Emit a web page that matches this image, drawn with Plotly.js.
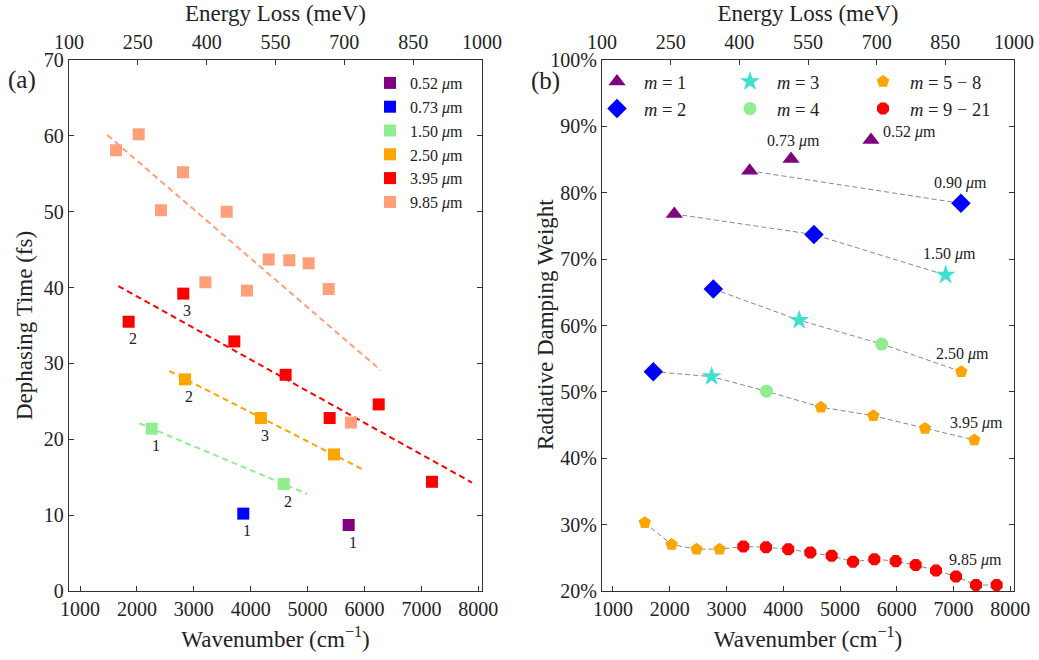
<!DOCTYPE html>
<html><head><meta charset="utf-8">
<script src="https://cdn.plot.ly/plotly-3.0.1.min.js"></script>
<style>html,body{margin:0;padding:0;background:#fff}#plot{width:1039px;height:660px}</style>
</head><body><div id="plot"></div>
<script>
// ---------- Panel (a): dephasing time ----------
const wlNames = ['0.52 <i>μ</i>m','0.73 <i>μ</i>m','1.50 <i>μ</i>m','2.50 <i>μ</i>m','3.95 <i>μ</i>m','9.85 <i>μ</i>m'];
const wlColors = ['#800080','#0000ff','#90ee90','#ffa500','#ff0000','#ffa07a'];

const a052_x = [5722];
const a052_y = [8.7];
const a052_ord = ['1'];
const a073_x = [3870];
const a073_y = [10.2];
const a073_ord = ['1'];
const a150_x = [2260, 4580];
const a150_y = [21.4, 14.1];
const a150_ord = ['1', '2'];
const a250_x = [2845, 4180, 5464];
const a250_y = [27.9, 22.8, 18.0];
const a250_ord = ['2', '3', ''];
const a395_x = [1855, 2815, 3712, 4614, 5388, 6250, 7186];
const a395_y = [35.5, 39.2, 32.9, 28.5, 22.8, 24.6, 14.4];
const a395_ord = ['2', '3', '', '', '', '', ''];
const a985_x = [1632, 2031, 2423, 2810, 3204, 3578, 3935, 4316, 4679, 5019, 5371, 5763];
const a985_y = [58.1, 60.2, 50.2, 55.2, 40.7, 50.0, 39.6, 43.7, 43.6, 43.2, 39.8, 22.2];
const a985_ord = [];

// fitted trend lines (endpoints)
const fit150_x = [2042, 4995], fit150_y = [22.1, 12.8];
const fit250_x = [2570, 5950], fit250_y = [29.0, 16.1];
const fit395_x = [1673, 7889], fit395_y = [40.2, 14.3];
const fit985_x = [1480, 6285], fit985_y = [60.1, 29.1];

// ---------- Panel (b): radiative damping weight ----------
const b090_x = [3409, 7131];
const b090_y = [83.3, 78.4];
const b090_m = [1, 2];
const b150_x = [2080, 4541, 6860];
const b150_y = [76.8, 73.7, 67.6];
const b150_m = [1, 2, 3];
const b250_x = [2768, 4281, 5734, 7137];
const b250_y = [65.5, 60.8, 57.2, 53.05];
const b250_m = [2, 3, 4, 5];
const b395_x = [1711, 2738, 3704, 4664, 5587, 6498, 7366];
const b395_y = [53.05, 52.3, 50.1, 47.7, 46.4, 44.5, 42.75];
const b395_m = [2, 3, 4, 5, 6, 7, 8];
const b985_x = [1561, 2033, 2473, 2877, 3296, 3696, 4088, 4477, 4853, 5229, 5605, 5981, 6333, 6691, 7043, 7396, 7760];
const b985_y = [30.3, 27.0, 26.3, 26.3, 26.7, 26.6, 26.3, 25.8, 25.3, 24.4, 24.8, 24.5, 23.9, 23.1, 22.2, 20.9, 20.9];
const b985_m = [5, 6, 7, 8, 9, 10, 11, 12, 13, 14, 15, 16, 17, 18, 19, 20, 21];
const b073_x = [4137], b073_y = [85.1], b073_m = [1];
const b052_x = [5546], b052_y = [87.95], b052_m = [1];

const mGroupNames = ['<i>m</i> = 1','<i>m</i> = 2','<i>m</i> = 3','<i>m</i> = 4','<i>m</i> = 5 − 8','<i>m</i> = 9 − 21'];
const mGroupSymbols = ['triangle-up','diamond','star','circle','pentagon','octagon'];
const mGroupColors = ['#800080','#0000ff','#40e0d0','#90ee90','#ffa500','#ff0000'];
const mGroupSizes = [15, 15, 15, 13, 13, 13];
const mGroupLegend = ['legend2','legend2','legend3','legend3','legend4','legend4'];

const topTicks = [100, 250, 400, 550, 700, 850, 1000];
const wnTicks = [1000, 2000, 3000, 4000, 5000, 6000, 7000, 8000];
const leftYTicks = [0, 10, 20, 30, 40, 50, 60, 70];
const rightYTicks = [20, 30, 40, 50, 60, 70, 80, 90, 100];

// ---------- build traces ----------
const FONT = 'Liberation Serif, Times New Roman, serif';
const traces = [];
const annotations = [];

const fits = [[fit150_x, fit150_y, 2], [fit250_x, fit250_y, 3], [fit395_x, fit395_y, 4], [fit985_x, fit985_y, 5]];
fits.forEach(f => traces.push({x: f[0], y: f[1], xaxis: 'x', yaxis: 'y', mode: 'lines', showlegend: false,
  line: {color: wlColors[f[2]], width: 2, dash: '6px,4px'}, hoverinfo: 'skip'}));

const aSeries = [[a052_x, a052_y, a052_ord], [a073_x, a073_y, a073_ord], [a150_x, a150_y, a150_ord],
                 [a250_x, a250_y, a250_ord], [a395_x, a395_y, a395_ord], [a985_x, a985_y, a985_ord]];
aSeries.forEach((s, i) => {
  traces.push({x: s[0], y: s[1], xaxis: 'x', yaxis: 'y', mode: 'markers', name: wlNames[i], legend: 'legend',
    marker: {symbol: 'square', size: 12, color: wlColors[i], line: {width: 0}}});
  s[2].forEach((t, k) => { if (t) annotations.push({x: s[0][k], y: s[1][k], xref: 'x', yref: 'y', text: t,
    showarrow: false, xshift: 4, yshift: -17, font: {family: FONT, size: 16, color: '#222'}}); });
});

// panel b dashed connecting lines
const bSeries = [[b090_x, b090_y, b090_m], [b150_x, b150_y, b150_m], [b250_x, b250_y, b250_m],
                 [b395_x, b395_y, b395_m], [b985_x, b985_y, b985_m], [b073_x, b073_y, b073_m], [b052_x, b052_y, b052_m]];
bSeries.forEach(s => { if (s[0].length > 1) traces.push({x: s[0], y: s[1], xaxis: 'x2', yaxis: 'y2', mode: 'lines',
  showlegend: false, line: {color: '#888', width: 1, dash: '5px,3px'}, hoverinfo: 'skip'}); });

function mGroup(m) { return m <= 4 ? m - 1 : (m <= 8 ? 4 : 5); }
const groups = mGroupNames.map(() => ({x: [], y: []}));
bSeries.forEach(s => s[0].forEach((x, k) => { const g = groups[mGroup(s[2][k])]; g.x.push(x); g.y.push(s[1][k]); }));
groups.forEach((g, i) => traces.push({x: g.x, y: g.y, xaxis: 'x2', yaxis: 'y2', mode: 'markers', name: mGroupNames[i],
  legend: mGroupLegend[i], marker: {symbol: mGroupSymbols[i], size: mGroupSizes[i], color: mGroupColors[i], line: {width: 0}}}));

// panel b series labels
const bLabels = [
  [b090_x, b090_y, '0.90 <i>μ</i>m', 'center', 0, 20],
  [b150_x, b150_y, '1.50 <i>μ</i>m', 'center', 4, 21],
  [b250_x, b250_y, '2.50 <i>μ</i>m', 'center', 1, 18],
  [b395_x, b395_y, '3.95 <i>μ</i>m', 'center', 2, 17],
  [b985_x, b985_y, '9.85 <i>μ</i>m', 'center', -21, 25],
  [b073_x, b073_y, '0.73 <i>μ</i>m', 'center', 2, 18],
  [b052_x, b052_y, '0.52 <i>μ</i>m', 'left', 10, 8]
];
bLabels.forEach(l => { const n = l[0].length - 1; annotations.push({x: l[0][n], y: l[1][n], xref: 'x2', yref: 'y2', text: l[2],
  xanchor: l[3], yanchor: 'middle', showarrow: false, xshift: l[4], yshift: l[5], font: {family: FONT, size: 16, color: '#222'}}); });

annotations.push({x: 22/1039, y: 1 - 80/660, xref: 'paper', yref: 'paper', text: '(a)', showarrow: false,
  xanchor: 'center', yanchor: 'middle', font: {family: FONT, size: 25, color: '#222'}});
annotations.push({x: 545/1039, y: 1 - 81/660, xref: 'paper', yref: 'paper', text: '(b)', showarrow: false,
  xanchor: 'center', yanchor: 'middle', font: {family: FONT, size: 25, color: '#222'}});
// right panel y-axis title (placed like the reference, closer to the axis than Plotly's automatic spot)
annotations.push({x: 545/1039, y: 1 - 325/660, xref: 'paper', yref: 'paper', text: 'Radiative Damping Weight',
  textangle: -90, showarrow: false, xanchor: 'center', yanchor: 'middle', font: {family: FONT, size: 23, color: '#222'}});

const tickFont = {family: FONT, size: 20, color: '#222'};
const titleFont = {family: FONT, size: 23, color: '#222'};
const ax = {showgrid: false, zeroline: false, showline: true, linecolor: '#333', linewidth: 1.2,
  ticks: 'inside', ticklen: 5, tickcolor: '#333', tickfont: tickFont};
const yDom = [1 - 591/660, 1 - 60/660];
const wnRange = [806.5, 8065.5];

const legendBase = {bgcolor: 'rgba(0,0,0,0)', borderwidth: 0, xanchor: 'left', yanchor: 'top', orientation: 'v'};

const layout = {
  width: 1039, height: 660, margin: {l: 0, r: 0, t: 0, b: 0},
  paper_bgcolor: '#fff', plot_bgcolor: '#fff', font: {family: FONT, color: '#222'},
  xaxis: Object.assign({}, ax, {domain: [69/1039, 482/1039], anchor: 'y', range: wnRange, tickvals: wnTicks,
    title: {text: 'Wavenumber (cm<sup>−1</sup>)', font: titleFont, standoff: 11}}),
  xaxis3: Object.assign({}, ax, {overlaying: 'x', side: 'top', anchor: 'y', range: [100, 1000], tickvals: topTicks,
    ticklabelstandoff: 2, title: {text: 'Energy Loss (meV)', font: titleFont, standoff: 2}}),
  yaxis: Object.assign({}, ax, {domain: yDom, anchor: 'x', range: [0, 70], tickvals: leftYTicks, mirror: 'ticks',
    title: {text: 'Dephasing Time (fs)', font: titleFont, standoff: 4}}),
  xaxis2: Object.assign({}, ax, {domain: [602/1039, 1014/1039], anchor: 'y2', range: wnRange, tickvals: wnTicks,
    title: {text: 'Wavenumber (cm<sup>−1</sup>)', font: titleFont, standoff: 11}}),
  xaxis4: Object.assign({}, ax, {overlaying: 'x2', side: 'top', anchor: 'y2', range: [100, 1000], tickvals: topTicks,
    ticklabelstandoff: 2, title: {text: 'Energy Loss (meV)', font: titleFont, standoff: 2}}),
  yaxis2: Object.assign({}, ax, {domain: yDom, anchor: 'x2', range: [20, 100], tickmode: 'array', tickvals: rightYTicks,
    ticktext: rightYTicks.map(v => v + '%'), mirror: 'ticks'}),
  legend: Object.assign({}, legendBase, {x: 370/1039, y: 1 - 66/660, font: {family: FONT, size: 16, color: '#222'}}),
  legend2: Object.assign({}, legendBase, {x: 590/1039, y: 1 - 63/660, itemwidth: 44, font: {family: FONT, size: 18.5, color: '#222'}}),
  legend3: Object.assign({}, legendBase, {x: 723/1039, y: 1 - 63/660, itemwidth: 44, font: {family: FONT, size: 18.5, color: '#222'}}),
  legend4: Object.assign({}, legendBase, {x: 856/1039, y: 1 - 63/660, itemwidth: 44, font: {family: FONT, size: 18.5, color: '#222'}}),
  annotations: annotations
};

// dummy traces so the top axes are drawn
traces.push({x: [100], y: [null], xaxis: 'x3', yaxis: 'y', mode: 'markers', showlegend: false, hoverinfo: 'skip'});
traces.push({x: [100], y: [null], xaxis: 'x4', yaxis: 'y2', mode: 'markers', showlegend: false, hoverinfo: 'skip'});

Plotly.newPlot('plot', traces, layout, {displayModeBar: false, staticPlot: true});
</script></body></html>
